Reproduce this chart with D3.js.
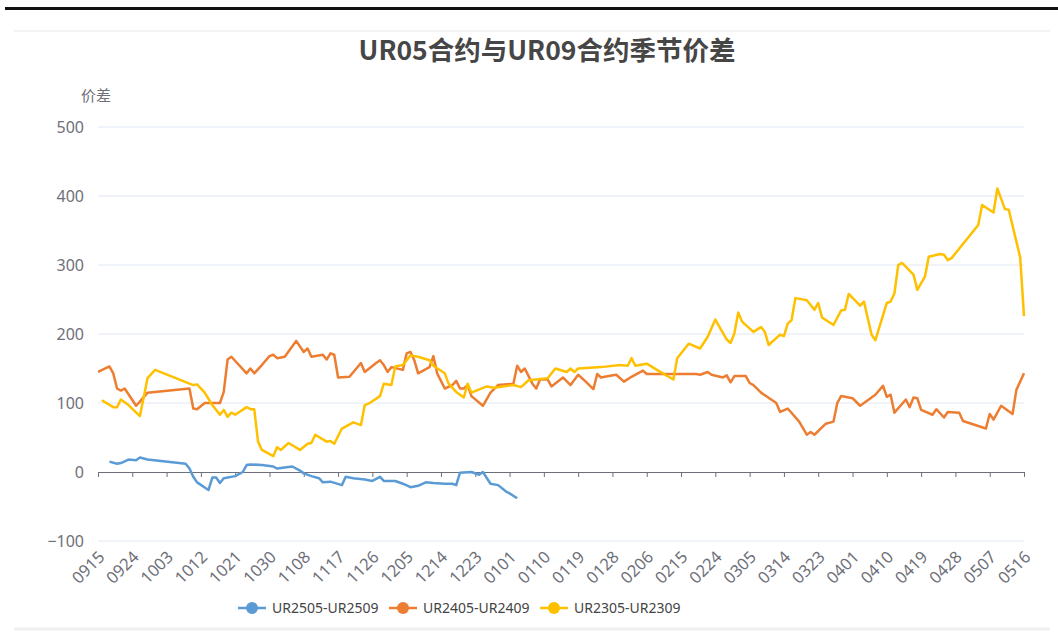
<!DOCTYPE html>
<html>
<head>
<meta charset="utf-8">
<script src="https://cdn.jsdelivr.net/npm/d3@7"></script>
<style>
  body { margin: 0; background: #fff; font-family: "Noto Sans CJK SC", "Noto Sans", sans-serif; }
</style>
</head>
<body>
<div id="chart"></div>
<script>
// tick labels on the category axis (every 9th day)
var tickLabels = ["0915","0924","1003","1012","1021","1030","1108","1117","1126","1205","1214","1223",
  "0101","0110","0119","0128","0206","0215","0224","0305","0314","0323","0401","0410","0419","0428","0507","0516"];
var yTicks = [-100, 0, 100, 200, 300, 400, 500];

var seriesNames = ["UR2505-UR2509", "UR2405-UR2409", "UR2305-UR2309"];
var colors = {
  "UR2505-UR2509": "#5B9BD5",
  "UR2405-UR2409": "#ED7D31",
  "UR2305-UR2309": "#FFC000"
};

// [MMDD, spread]
var ur2505 = [["0918",15],["0920",12],["0921",13],["0923",18],["0925",17],["0926",21],["0928",18],
  ["1008",12],["1009",5],["1010",-7],["1011",-15],["1014",-26],["1015",-8],["1016",-8],["1017",-16],
  ["1018",-9],["1021",-6],["1023",0],["1024",10],["1025",11],["1028",10],["1031",8],["1101",5],
  ["1105",8],["1107",2],["1108",-2],["1110",-6],["1112",-9],["1113",-15],["1115",-14],["1118",-19],
  ["1119",-7],["1121",-9],["1124",-11],["1126",-13],["1128",-7],["1129",-13],["1202",-13],["1204",-17],
  ["1206",-22],["1208",-20],["1210",-15],["1212",-16],["1215",-17],["1217",-17],["1218",-19],["1219",-1],
  ["1222",0],["1224",-4],["1225",0],["1227",-17],["1229",-19],["1231",-28],["0101",-31],["0103",-38]];

var ur2405 = [["0915",145],["0918",153],["0919",143],["0920",121],["0921",118],["0922",121],["0925",96],
  ["0926",102],["0928",115],["1009",121],["1010",92],["1011",91],["1013",100],["1015",100],["1017",100],
  ["1018",116],["1019",163],["1020",167],["1024",143],["1025",150],["1026",143],["1028",155],["1030",168],
  ["1031",170],["1101",165],["1103",167],["1106",190],["1108",174],["1109",179],["1110",167],["1113",170],
  ["1114",163],["1115",172],["1116",170],["1117",137],["1120",138],["1123",158],["1124",145],["1127",158],
  ["1128",162],["1129",155],["1130",145],["1201",152],["1204",148],["1205",172],["1206",174],["1207",162],
  ["1208",143],["1211",152],["1212",168],["1213",143],["1215",121],["1217",126],["1218",132],["1219",121],
  ["1220",121],["1221",126],["1222",110],["1225",96],["1227",115],["1229",126],["0102",128],["0103",154],
  ["0104",145],["0105",150],["0107",128],["0108",121],["0109",134],["0111",134],["0112",124],["0115",137],
  ["0117",126],["0119",141],["0121",131],["0123",120],["0124",142],["0125",137],["0127",139],["0129",141],
  ["0131",131],["0202",138],["0205",147],["0206",142],["0213",142],["0219",142],["0220",141],["0222",145],
  ["0223",141],["0226",137],["0227",140],["0228",130],["0301",139],["0304",139],["0305",129],["0306",126],
  ["0308",115],["0312",100],["0313",87],["0315",92],["0318",73],["0320",54],["0321",58],["0322",54],
  ["0325",70],["0327",73],["0328",100],["0329",110],["0401",107],["0403",96],["0407",112],["0409",125],
  ["0410",109],["0411",112],["0412",86],["0415",105],["0416",94],["0417",108],["0418",107],["0419",90],
  ["0422",83],["0423",91],["0425",79],["0426",87],["0429",86],["0430",74],["0506",63],["0507",84],
  ["0508",76],["0510",96],["0513",84],["0514",119],["0516",143]];

var ur2305 = [["0916",104],["0919",94],["0920",94],["0921",105],["0923",97],["0926",81],["0928",136],
  ["0930",148],["1010",126],["1011",127],["1013",115],["1015",97],["1017",83],["1018",90],["1019",80],
  ["1020",86],["1021",83],["1024",94],["1025",91],["1026",91],["1027",44],["1028",32],["1031",23],
  ["1101",36],["1102",32],["1104",42],["1107",32],["1109",41],["1110",42],["1111",54],["1114",44],
  ["1115",45],["1116",41],["1118",63],["1121",72],["1123",68],["1124",97],["1125",99],["1128",110],
  ["1129",128],["1201",126],["1202",153],["1204",155],["1206",169],["1208",167],["1211",162],["1212",154],
  ["1215",143],["1216",128],["1218",116],["1220",108],["1221",128],["1222",115],["1226",124],["1228",122],
  ["0102",126],["0104",123],["0106",133],["0111",136],["0113",150],["0116",145],["0117",150],["0118",145],
  ["0119",150],["0125",152],["0130",155],["0201",154],["0202",165],["0203",154],["0206",157],["0209",147],
  ["0213",134],["0214",165],["0217",186],["0220",179],["0222",196],["0224",221],["0225",211],["0227",192],
  ["0228",187],["0301",201],["0302",231],["0303",218],["0306",203],["0308",210],["0309",203],["0310",184],
  ["0313",199],["0314",197],["0315",215],["0316",220],["0317",252],["0320",249],["0322",235],["0323",245],
  ["0324",224],["0327",213],["0329",234],["0330",235],["0331",258],["0403",241],["0404",247],["0406",199],
  ["0407",191],["0410",245],["0411",247],["0412",259],["0413",300],["0414",303],["0417",286],["0418",264],
  ["0420",283],["0421",312],["0424",316],["0425",315],["0426",307],["0427",310],["0504",358],["0505",387],
  ["0508",376],["0509",411],["0511",381],["0512",380],["0515",311],["0516",226]];

var seriesData = {
  "UR2505-UR2509": ur2505,
  "UR2405-UR2409": ur2405,
  "UR2305-UR2309": ur2305
};

// MMDD -> date inside the Sep..May season
function toDate(md) {
  var m = +md.slice(0, 2), d = +md.slice(2);
  return new Date(Date.UTC(m >= 9 ? 2024 : 2025, m - 1, d));
}

var W = 1058, H = 643;
var plotLeft = 98, plotRight = 1024, plotTop = 127, plotBottom = 541;

var svg = d3.select("#chart").append("svg")
  .attr("width", W)
  .attr("height", H);

// frame decoration
svg.append("line").attr("x1", 5).attr("x2", W).attr("y1", 8.5).attr("y2", 8.5)
  .attr("stroke", "#111").attr("stroke-width", 3);
svg.append("line").attr("x1", 14).attr("x2", 1050).attr("y1", 31).attr("y2", 31)
  .attr("stroke", "#f3f3f3").attr("stroke-width", 2);
svg.append("line").attr("x1", 14).attr("x2", 1050).attr("y1", 629).attr("y2", 629)
  .attr("stroke", "#f0f0f0").attr("stroke-width", 3);

var x = d3.scaleUtc().domain([toDate("0915"), toDate("0516")]).range([plotLeft, plotRight]);
var y = d3.scaleLinear().domain([-100, 500]).range([plotBottom, plotTop]);

// title
svg.append("text")
  .attr("x", 547).attr("y", 60)
  .attr("text-anchor", "middle")
  .style("font-size", "26.5px").style("font-weight", "bold")
  .style("fill", "#464646")
  .text("UR05合约与UR09合约季节价差");

// y axis name
svg.append("text")
  .attr("x", 96).attr("y", 101)
  .attr("text-anchor", "middle")
  .style("font-size", "15px").style("fill", "#6E7079")
  .text("价差");

// grid
svg.append("g").selectAll("line")
  .data(yTicks.filter(function(d) { return d != 0; }))
  .enter().append("line")
  .attr("x1", plotLeft).attr("x2", plotRight)
  .attr("y1", function(d) { return y(d); })
  .attr("y2", function(d) { return y(d); })
  .attr("stroke", "#E0E6F1").attr("stroke-width", 1);

// y axis labels
var yAxis = svg.append("g")
  .attr("transform", "translate(" + plotLeft + ",0)")
  .call(d3.axisLeft(y).tickValues(yTicks).tickSize(0).tickPadding(14));
yAxis.select(".domain").remove();
yAxis.selectAll("text")
  .style("font-size", "16px").style("fill", "#6E7079")
  .style("font-family", "'Noto Sans', sans-serif");

// x axis line + ticks on zero
var xAxis = svg.append("g")
  .attr("transform", "translate(0," + y(0) + ")")
  .call(d3.axisBottom(x).tickValues(tickLabels.map(toDate)).tickSize(5).tickFormat(""));
xAxis.select(".domain").attr("stroke", "#6E7079");
xAxis.selectAll(".tick line").attr("stroke", "#6E7079");

// x labels at the bottom, rotated
var xLabels = svg.append("g")
  .attr("transform", "translate(0," + plotBottom + ")")
  .call(d3.axisBottom(x).tickValues(tickLabels.map(toDate)).tickSize(0)
    .tickFormat(function(d, i) { return tickLabels[i]; }));
xLabels.select(".domain").remove();
xLabels.selectAll("text")
  .attr("x", 0).attr("y", 0).attr("dy", "0.35em")
  .attr("text-anchor", "end")
  .attr("transform", "translate(3,13) rotate(-45)")
  .style("font-size", "16.5px").style("fill", "#6E7079")
  .style("font-family", "'Noto Sans', sans-serif");

// lines
var line = d3.line()
  .x(function(d) { return x(toDate(d[0])); })
  .y(function(d) { return y(d[1]); });

seriesNames.forEach(function(name) {
  svg.append("path")
    .datum(seriesData[name])
    .attr("fill", "none")
    .attr("stroke", colors[name])
    .attr("stroke-width", 2.5)
    .attr("stroke-linejoin", "round")
    .attr("d", line);
});

// legend
var legendX = [252, 403, 554];
var legend = svg.append("g").selectAll("g")
  .data(seriesNames)
  .enter().append("g")
  .attr("transform", function(d, i) { return "translate(" + legendX[i] + ",608)"; });
legend.append("line")
  .attr("x1", -14).attr("x2", 14)
  .attr("stroke", function(d) { return colors[d]; })
  .attr("stroke-width", 2.5);
legend.append("circle")
  .attr("r", 6)
  .attr("fill", function(d) { return colors[d]; });
legend.append("text")
  .attr("x", 20).attr("dy", "0.35em")
  .style("font-size", "14px").style("fill", "#444")
  .style("font-family", "'Noto Sans', sans-serif")
  .text(function(d) { return d; });
</script>
</body>
</html>
